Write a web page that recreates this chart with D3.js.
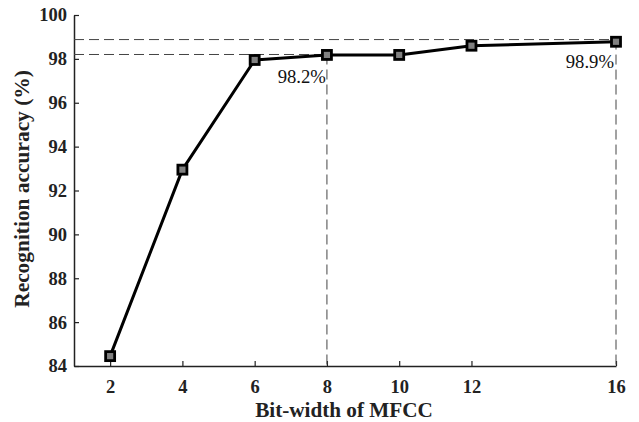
<!DOCTYPE html>
<html><head><meta charset="utf-8">
<script src="https://cdn.jsdelivr.net/npm/d3@7"></script>
<style>
html,body{margin:0;padding:0;background:#fff;}
svg{display:block;}
</style></head>
<body><svg id="c" width="639" height="422"></svg>
<script>
const bitWidths = [2, 4, 6, 8, 10, 12, 16];
const accuracy = [84.45, 92.95, 97.95, 98.18, 98.18, 98.6, 98.78];
const xTicks = [2, 4, 6, 8, 10, 12, 16];
const yTicks = [84, 86, 88, 90, 92, 94, 96, 98, 100];
const refLines = [{x: 8, y: 98.2, label: "98.2%"}, {x: 16, y: 98.88, label: "98.9%"}];

const FONT = "'Liberation Serif', 'Times New Roman', serif";
const svg = d3.select("#c").attr("font-family", FONT);
const x = d3.scaleLinear().domain([1, 16]).range([74, 616]);
const y = d3.scaleLinear().domain([84, 100]).range([366, 15]);

const axisColor = "#222";
const gx = svg.append("g").attr("transform", `translate(0,${y(84)})`)
  .call(d3.axisBottom(x).tickValues(xTicks).tickSizeInner(-5).tickSizeOuter(0).tickPadding(14));
const gy = svg.append("g").attr("transform", `translate(${x(1)},0)`)
  .call(d3.axisLeft(y).tickValues(yTicks).tickSizeInner(-5).tickSizeOuter(0).tickPadding(7));
[gx, gy].forEach(g => {
  g.attr("font-family", FONT);
  g.select(".domain").attr("stroke", axisColor).attr("stroke-width", 1.5);
  g.selectAll(".tick line").attr("stroke", axisColor).attr("stroke-width", 1.2);
  g.selectAll(".tick text").attr("fill", "#222").attr("font-size", 18.5)
    .attr("font-weight", "bold").attr("font-family", FONT);
});
gx.selectAll(".tick text").attr("dy", "0.71em");

refLines.forEach(r => {
  svg.append("path")
    .attr("d", `M${x(1)},${y(r.y)}H${x(r.x)}`)
    .attr("stroke", "#444").attr("stroke-width", 1).attr("stroke-dasharray", "10,5").attr("fill", "none");
  svg.append("path")
    .attr("d", `M${x(r.x)},${y(r.y)}V${y(84)}`)
    .attr("stroke", "#444").attr("stroke-width", 1).attr("stroke-dasharray", "10,5").attr("fill", "none");
});

const data = bitWidths.map((b, i) => ({b, v: accuracy[i]}));
svg.append("path").datum(data)
  .attr("d", d3.line().x(d => x(d.b)).y(d => y(d.v)))
  .attr("fill", "none").attr("stroke", "#000").attr("stroke-width", 3).attr("stroke-linejoin", "round");
svg.selectAll("rect.m").data(data).enter().append("rect").attr("class", "m")
  .attr("x", d => x(d.b) - 4.5).attr("y", d => y(d.v) - 4.5)
  .attr("width", 9).attr("height", 9)
  .attr("fill", "#808080").attr("stroke", "#000").attr("stroke-width", 2.8);

svg.append("text").attr("x", x(8) - 1).attr("y", 83).attr("text-anchor", "end")
  .attr("font-family", FONT).attr("font-size", 18.7).attr("fill", "#111").text(refLines[0].label);
svg.append("text").attr("x", x(16) - 2).attr("y", 68).attr("text-anchor", "end")
  .attr("font-family", FONT).attr("font-size", 18.7).attr("fill", "#111").text(refLines[1].label);

svg.append("text").attr("x", 344).attr("y", 416.5).attr("text-anchor", "middle")
  .attr("font-family", FONT).attr("font-size", 21.2).attr("font-weight", "bold").attr("fill", "#222").text("Bit-width of MFCC");
svg.append("text").attr("transform", "translate(29,189) rotate(-90)").attr("text-anchor", "middle")
  .attr("font-family", FONT).attr("font-size", 21.4).attr("font-weight", "bold").attr("fill", "#222")
  .text("Recognition accuracy (%)");
</script></body></html>
